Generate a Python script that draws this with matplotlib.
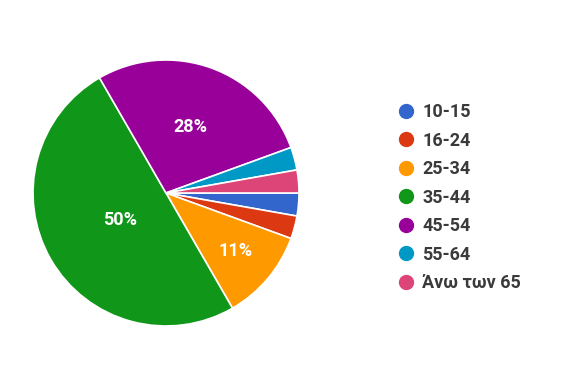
import matplotlib.pyplot as plt
import numpy as np
from matplotlib.lines import Line2D

# age groups and responses (counts)
age_groups = ["10-15", "16-24", "25-34", "35-44", "45-54", "55-64", "Άνω των 65"]
counts = [1, 1, 4, 18, 10, 1, 1]
colors = ["#3366cc", "#dc3912", "#ff9900", "#109618", "#990099", "#0099c6", "#dd4477"]

plt.rcParams['font.family'] = ["Roboto", "DejaVu Sans"]

fig = plt.figure(figsize=(5.8, 3.76), dpi=100, facecolor='white')

# pie axes: centre ~ (166, 192) px, radius ~133 px
cx, cy, r = 166, 193, 133
W, H = 580, 376
ax = fig.add_axes([(cx - r) / W, (H - cy - r) / H, 2 * r / W, 2 * r / H])

wedges, _ = ax.pie(counts, colors=colors, startangle=0, counterclock=False,
                   wedgeprops=dict(edgecolor='white', linewidth=1.2))
ax.set_xlim(-1, 1)
ax.set_ylim(-1, 1)
ax.set_aspect('equal')
ax.axis('off')

# percentage labels only on the big slices
total = sum(counts)
label_r = {2: 0.68, 3: 0.40, 4: 0.53}
for i, w in enumerate(wedges):
    if i not in label_r:
        continue
    mid = np.deg2rad((w.theta1 + w.theta2) / 2)
    rr = label_r[i]
    ax.text(rr * np.cos(mid), rr * np.sin(mid), f"{round(100 * counts[i] / total)}%",
            ha='center', va='center', color='white', fontsize=13, fontweight='bold')

handles = [Line2D([0], [0], marker='o', linestyle='none', markersize=10,
                  markerfacecolor=c, markeredgecolor=c) for c in colors]
leg = fig.legend(handles, age_groups, loc='upper left', bbox_to_anchor=(388 / W, 1 - 96 / H),
                 frameon=False, fontsize=13, labelspacing=0.58, handletextpad=0.3,
                 handlelength=1.2, borderaxespad=0)
for t in leg.get_texts():
    t.set_color('#3a3a3a')
    t.set_fontweight('bold')

plt.savefig("out.png", dpi=100, facecolor='white')
plt.close()
